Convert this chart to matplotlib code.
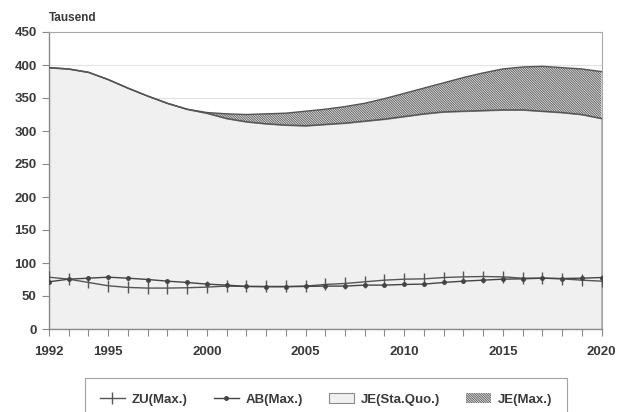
import matplotlib
matplotlib.use("Agg")
import matplotlib.pyplot as plt

plt.rcParams['font.family'] = ['Liberation Sans', 'DejaVu Sans']
plt.rcParams['font.weight'] = 'bold'
plt.rcParams['hatch.color'] = '#555555'
plt.rcParams['hatch.linewidth'] = 0.6

# Jahre 1992 - 2020, Werte in Tausend
jahre = list(range(1992, 2021))

je_sta_quo = [396, 394, 389, 378, 365, 353, 342, 333, 327, 319, 314, 311, 309, 308,
              310, 312, 315, 318, 322, 326, 329, 330, 331, 332, 332, 330, 328, 325, 319]
je_max = [396, 394, 389, 378, 365, 353, 342, 333, 328, 326, 325, 326, 327, 330,
          333, 337, 342, 349, 357, 365, 373, 381, 388, 394, 397, 398, 396, 394, 390]
zu_max = [78.5, 75.5, 70.5, 65.5, 63, 62, 62, 62.5, 63.5, 65, 64.5, 64.5, 64.5, 65,
          67.5, 69, 71.5, 74, 75.5, 76, 78, 79, 79.5, 79, 77, 77, 76, 74, 72.5]
ab_max = [71.5, 75.5, 77, 78.5, 77, 75, 72.5, 70.5, 68, 66.5, 64.5, 64, 64, 64.5,
          65, 65, 66.5, 66.5, 67.5, 68, 70.5, 72.5, 74, 75.5, 76, 77, 76.5, 77, 78]

x_labels = {1992: '1992', 1995: '1995', 2000: '2000', 2005: '2005',
            2010: '2010', 2015: '2015', 2020: '2020'}
y_ticks = [0, 50, 100, 150, 200, 250, 300, 350, 400, 450]

txt = '#3a3a3a'
frame = '#8a8a8a'

fig = plt.figure(figsize=(6.19, 4.12), dpi=100)
ax = fig.add_axes([49 / 619, 1 - 329 / 412, 552.5 / 619, 297 / 412])

ax.set_xlim(1992, 2020)
ax.set_ylim(0, 450)

# Flaechen
sq = ax.fill_between(jahre, 0, je_sta_quo, facecolor='#f0f0f0', edgecolor='#8a8a8a',
                     linewidth=0.8, zorder=1, label='JE(Sta.Quo.)')
mx = ax.fill_between(jahre, je_sta_quo, je_max, facecolor='#e6e6e6', edgecolor='#555555',
                     hatch='\\' * 14, linewidth=0, zorder=2, label='JE(Max.)')
ax.plot(jahre, je_sta_quo, color='#555555', lw=1.0, zorder=3)
ax.plot(jahre, je_max, color='#555555', lw=1.0, zorder=3)

# Linien
zu, = ax.plot(jahre, zu_max, color='#555555', lw=1.0, marker='|', ms=8, mew=1.0,
              zorder=4, label='ZU(Max.)')
ab, = ax.plot(jahre, ab_max, color='#444444', lw=1.0, marker='.', ms=5,
              zorder=4, label='AB(Max.)')

ax.set_yticks(y_ticks)
ax.set_yticklabels([str(v) for v in y_ticks])
ax.set_xticks(jahre)
ax.set_xticklabels([x_labels.get(j, '') for j in jahre])
ax.tick_params(axis='both', labelsize=9.5, colors=frame, labelcolor=txt,
               length=5, width=0.8, direction='out')
ax.tick_params(axis='x', pad=7)
ax.tick_params(axis='y', pad=4)

ax.grid(axis='y', color='#e2e2e2', lw=0.8, zorder=0)
ax.set_axisbelow(True)
for side in ['left', 'bottom']:
    ax.spines[side].set_color(frame)
    ax.spines[side].set_linewidth(1.0)
for side in ['top', 'right']:
    ax.spines[side].set_color('#a8a8a8')
    ax.spines[side].set_linewidth(0.8)

fig.text(49 / 619, 1 - 18 / 412, 'Tausend', fontsize=8.5, color=txt, va='center', ha='left')

leg = fig.legend([zu, ab, sq, mx], ['ZU(Max.)', 'AB(Max.)', 'JE(Sta.Quo.)', 'JE(Max.)'],
                 loc='upper center', bbox_to_anchor=(326 / 619, 1 - 378 / 412),
                 borderaxespad=0, ncol=4, fontsize=9.5, frameon=True, fancybox=False,
                 handlelength=1.9, handleheight=0.9, handletextpad=0.5, columnspacing=2.0,
                 borderpad=1.1, labelcolor=txt)
leg.get_frame().set_edgecolor(frame)
leg.get_frame().set_linewidth(0.8)

fig.savefig('out.png', dpi=100)
